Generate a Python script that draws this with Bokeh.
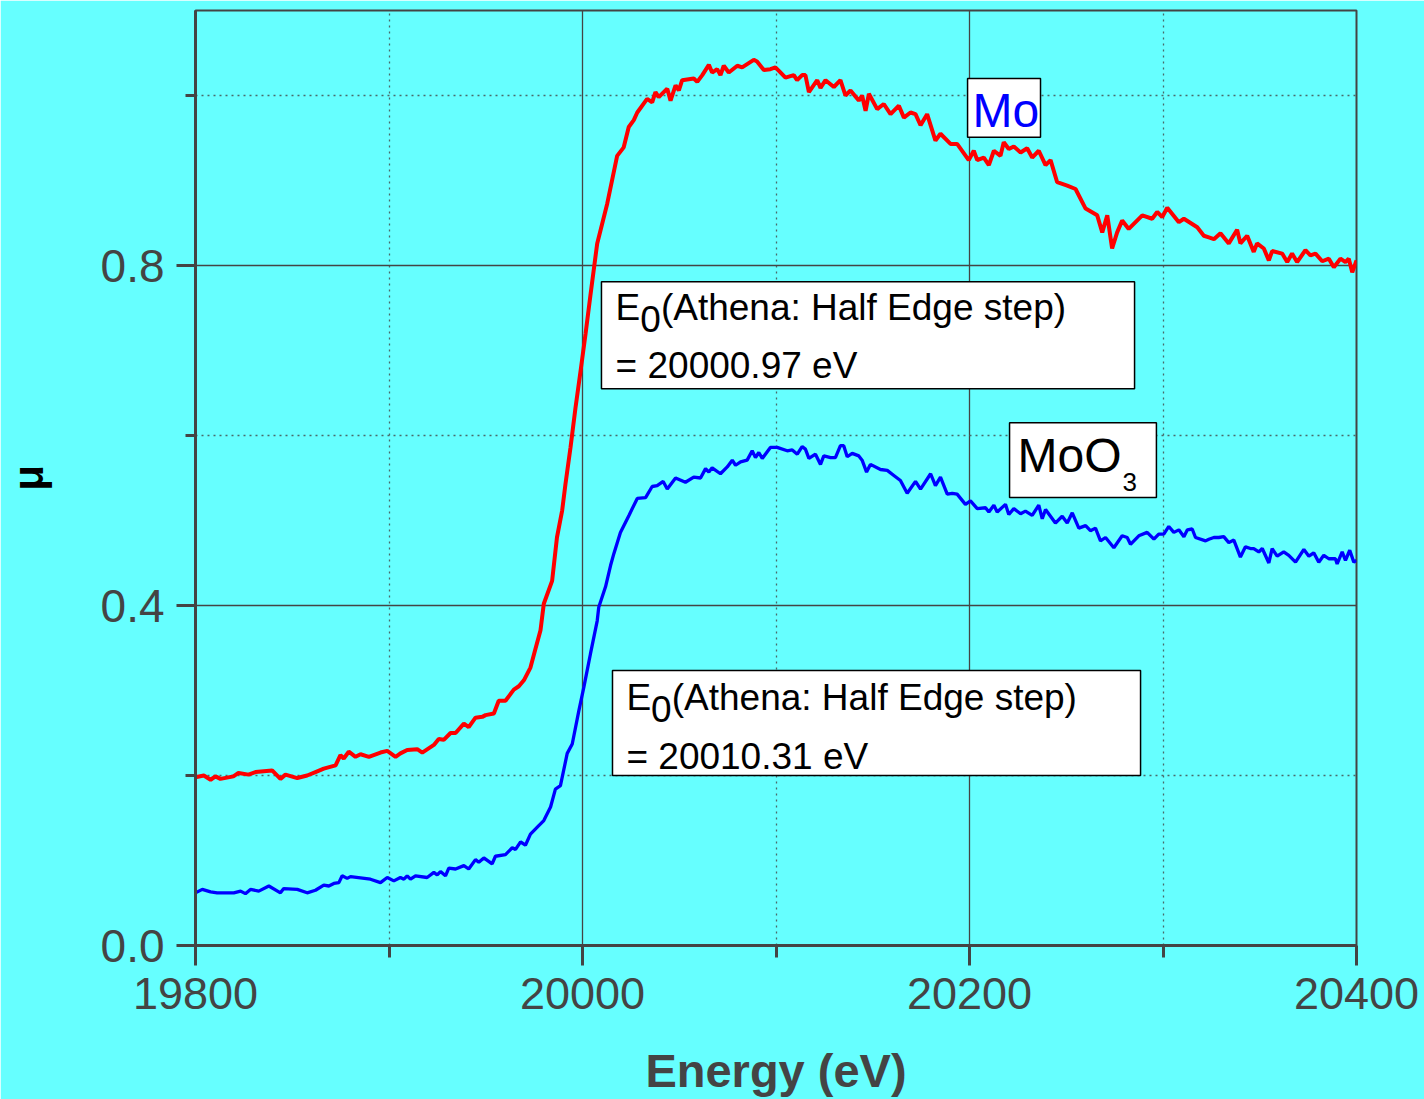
from bokeh.plotting import figure
from bokeh.models import Range1d, FixedTicker, BoxAnnotation, Label, NumeralTickFormatter
from bokeh.embed import file_html
from bokeh.resources import INLINE

# Mo K-edge XANES of Mo foil
energy_mo = [
    19800.0, 19804.3, 19807.8, 19810.3, 19812.9, 19819.6, 19822.2, 19827.4, 19831.0, 19839.6,
    19843.9, 19846.5, 19852.6, 19857.7, 19862.0, 19866.3, 19872.4, 19874.9, 19876.6, 19879.2,
    19882.7, 19885.3, 19889.6, 19895.6, 19899.1, 19903.4, 19905.9, 19909.4, 19914.6, 19917.2,
    19923.2, 19925.7, 19928.3, 19931.8, 19934.4, 19938.7, 19941.2, 19944.7, 19948.2, 19949.9,
    19954.2, 19956.7, 19960.2, 19964.5, 19967.1, 19969.7, 19973.1, 19975.7, 19978.3, 19980.0,
    19984.3, 19986.8, 19989.5, 19991.2, 19993.8, 19996.4, 19999.0, 20001.6, 20004.1, 20007.6,
    20012.8, 20017.9, 20021.3, 20023.9, 20026.5, 20028.3, 20033.4, 20036.0, 20037.7, 20039.4,
    20043.8, 20045.5, 20048.1, 20049.8, 20051.5, 20057.5, 20059.3, 20061.9, 20065.3, 20067.0,
    20069.6, 20071.3, 20073.0, 20075.6, 20080.0, 20082.5, 20088.5, 20090.2, 20093.7, 20097.1,
    20099.7, 20101.5, 20104.9, 20109.2, 20110.9, 20113.5, 20115.2, 20117.0, 20121.3, 20123.0,
    20125.6, 20129.9, 20133.3, 20135.9, 20138.5, 20142.8, 20144.5, 20146.3, 20148.0, 20152.3,
    20155.7, 20159.2, 20163.5, 20166.1, 20169.5, 20172.1, 20174.7, 20178.1, 20182.4, 20185.0,
    20190.2, 20193.6, 20199.6, 20202.2, 20204.0, 20207.4, 20210.0, 20212.6, 20216.0, 20217.7,
    20220.3, 20222.9, 20226.4, 20229.8, 20232.4, 20235.8, 20239.3, 20241.9, 20245.3, 20250.5,
    20254.8, 20260.0, 20266.0, 20268.6, 20271.2, 20273.7, 20276.3, 20278.9, 20282.3, 20289.3,
    20294.4, 20297.0, 20299.6, 20302.2, 20308.2, 20310.8, 20317.7, 20321.1, 20323.7, 20326.3,
    20329.7, 20334.0, 20338.3, 20340.0, 20343.5, 20346.9, 20348.6, 20352.1, 20354.7, 20356.4,
    20361.6, 20364.2, 20366.7, 20369.3, 20373.6, 20376.2, 20378.8, 20382.3, 20385.7, 20388.3,
    20391.7, 20394.3, 20396.0, 20397.8, 20400.0,
]
mu_mo = [
    0.198, 0.200, 0.195, 0.199, 0.196, 0.199, 0.203, 0.201, 0.204, 0.206,
    0.196, 0.201, 0.197, 0.200, 0.204, 0.208, 0.212, 0.224, 0.220, 0.228,
    0.222, 0.225, 0.222, 0.227, 0.229, 0.222, 0.226, 0.230, 0.231, 0.227,
    0.236, 0.243, 0.242, 0.250, 0.250, 0.261, 0.257, 0.268, 0.269, 0.271,
    0.273, 0.288, 0.288, 0.301, 0.305, 0.312, 0.327, 0.349, 0.371, 0.402,
    0.429, 0.480, 0.512, 0.543, 0.586, 0.633, 0.676, 0.720, 0.765, 0.826,
    0.873, 0.929, 0.939, 0.963, 0.971, 0.980, 0.996, 0.992, 1.004, 0.998,
    1.008, 0.994, 1.012, 1.006, 1.018, 1.020, 1.016, 1.024, 1.036, 1.027,
    1.031, 1.024, 1.035, 1.027, 1.035, 1.033, 1.042, 1.040, 1.030, 1.031,
    1.033, 1.029, 1.021, 1.024, 1.018, 1.024, 1.024, 1.004, 1.018, 1.009,
    1.018, 1.010, 1.018, 1.000, 1.006, 0.994, 1.000, 0.982, 1.002, 0.984,
    0.990, 0.978, 0.988, 0.974, 0.980, 0.978, 0.965, 0.978, 0.947, 0.955,
    0.943, 0.943, 0.924, 0.935, 0.924, 0.927, 0.918, 0.935, 0.929, 0.945,
    0.937, 0.940, 0.933, 0.938, 0.927, 0.935, 0.918, 0.924, 0.898, 0.894,
    0.890, 0.867, 0.859, 0.839, 0.859, 0.820, 0.839, 0.853, 0.843, 0.859,
    0.855, 0.863, 0.857, 0.868, 0.851, 0.855, 0.845, 0.835, 0.833, 0.831,
    0.838, 0.826, 0.842, 0.826, 0.835, 0.816, 0.826, 0.820, 0.806, 0.817,
    0.814, 0.804, 0.814, 0.804, 0.818, 0.812, 0.814, 0.805, 0.808, 0.798,
    0.808, 0.804, 0.808, 0.792, 0.806,
]

# Mo K-edge XANES of MoO3
energy_moo3 = [
    19800.0, 19803.5, 19807.8, 19811.2, 19819.8, 19823.3, 19825.8, 19828.4, 19832.7, 19837.9,
    19843.9, 19845.6, 19852.6, 19857.7, 19862.0, 19866.3, 19868.9, 19871.5, 19874.1, 19875.8,
    19878.4, 19880.1, 19890.4, 19895.6, 19899.1, 19902.5, 19905.9, 19907.7, 19909.4, 19911.1,
    19913.7, 19919.7, 19923.2, 19924.9, 19926.6, 19929.2, 19930.9, 19934.4, 19938.7, 19941.2,
    19944.7, 19946.4, 19949.0, 19953.3, 19955.0, 19960.2, 19963.7, 19965.4, 19968.0, 19970.5,
    19973.1, 19977.4, 19980.0, 19983.5, 19986.0, 19988.6, 19992.1, 19994.7, 19998.1, 20000.7,
    20004.1, 20007.6, 20008.4, 20011.9, 20014.5, 20016.2, 20019.6, 20024.0, 20028.3, 20032.6,
    20036.0, 20038.6, 20041.7, 20043.8, 20048.1, 20053.2, 20057.5, 20061.0, 20063.6, 20065.3,
    20067.0, 20071.3, 20074.8, 20077.4, 20079.1, 20081.7, 20085.1, 20087.7, 20089.4, 20091.1,
    20092.9, 20097.1, 20100.6, 20105.8, 20108.4, 20111.0, 20113.5, 20115.2, 20117.0, 20120.4,
    20123.0, 20124.7, 20128.2, 20130.7, 20133.3, 20135.0, 20136.8, 20139.4, 20142.8, 20144.5,
    20146.8, 20148.8, 20154.0, 20157.5, 20160.9, 20164.3, 20167.8, 20172.1, 20174.7, 20179.9,
    20182.4, 20185.0, 20188.5, 20191.1, 20193.6, 20197.9, 20200.5, 20204.0, 20208.3, 20210.0,
    20212.6, 20214.3, 20218.6, 20220.3, 20222.9, 20226.4, 20228.9, 20232.4, 20235.8, 20237.6,
    20239.3, 20244.4, 20247.9, 20250.5, 20253.1, 20256.5, 20260.0, 20262.5, 20265.1, 20267.7,
    20270.3, 20274.6, 20278.9, 20281.5, 20283.2, 20287.5, 20291.8, 20295.3, 20297.8, 20300.4,
    20303.0, 20305.6, 20308.2, 20310.8, 20312.6, 20315.1, 20316.8, 20322.0, 20323.7, 20326.3,
    20328.8, 20331.4, 20334.0, 20336.6, 20340.0, 20342.6, 20345.2, 20346.9, 20349.5, 20351.3,
    20354.7, 20356.4, 20359.0, 20362.4, 20365.0, 20368.5, 20372.8, 20375.4, 20377.9, 20380.5,
    20383.1, 20385.7, 20389.1, 20390.0, 20392.6, 20394.3, 20396.5, 20398.6, 20400.0,
]
mu_moo3 = [
    0.062, 0.066, 0.063, 0.062, 0.062, 0.064, 0.061, 0.066, 0.064, 0.070,
    0.062, 0.067, 0.066, 0.062, 0.065, 0.071, 0.070, 0.073, 0.074, 0.082,
    0.079, 0.081, 0.078, 0.074, 0.080, 0.076, 0.080, 0.078, 0.082, 0.078,
    0.082, 0.080, 0.086, 0.083, 0.087, 0.082, 0.091, 0.090, 0.094, 0.090,
    0.101, 0.098, 0.103, 0.096, 0.105, 0.107, 0.115, 0.113, 0.122, 0.118,
    0.131, 0.141, 0.147, 0.163, 0.184, 0.188, 0.226, 0.237, 0.276, 0.304,
    0.343, 0.382, 0.398, 0.422, 0.447, 0.461, 0.486, 0.506, 0.526, 0.527,
    0.540, 0.541, 0.546, 0.537, 0.550, 0.545, 0.551, 0.550, 0.561, 0.557,
    0.562, 0.555, 0.563, 0.571, 0.565, 0.569, 0.571, 0.582, 0.574, 0.580,
    0.573, 0.586, 0.586, 0.582, 0.583, 0.578, 0.587, 0.584, 0.573, 0.578,
    0.566, 0.576, 0.574, 0.574, 0.588, 0.588, 0.575, 0.579, 0.576, 0.571,
    0.557, 0.566, 0.560, 0.559, 0.553, 0.547, 0.532, 0.546, 0.537, 0.555,
    0.541, 0.551, 0.531, 0.532, 0.531, 0.519, 0.523, 0.514, 0.515, 0.510,
    0.518, 0.510, 0.519, 0.507, 0.514, 0.508, 0.511, 0.506, 0.518, 0.502,
    0.513, 0.497, 0.505, 0.497, 0.509, 0.491, 0.494, 0.488, 0.491, 0.476,
    0.480, 0.468, 0.482, 0.480, 0.472, 0.482, 0.486, 0.478, 0.484, 0.484,
    0.493, 0.486, 0.489, 0.481, 0.489, 0.490, 0.480, 0.476, 0.478, 0.480,
    0.480, 0.481, 0.474, 0.477, 0.457, 0.469, 0.467, 0.467, 0.463, 0.467,
    0.450, 0.467, 0.458, 0.463, 0.459, 0.451, 0.466, 0.458, 0.462, 0.451,
    0.459, 0.455, 0.455, 0.449, 0.463, 0.453, 0.465, 0.451, 0.453,
]

x_ticks = [19800, 20000, 20200, 20400]
x_minor = [19900, 20100, 20300]
y_ticks = [0.0, 0.4, 0.8]
y_minor = [0.2, 0.6, 1.0]

e0_mo = "20000.97"
e0_moo3 = "20010.31"

BG = "#66FFFF"
AX = "#444444"
FONT = "Liberation Sans"

p = figure(width=1424, height=1099, output_backend="svg", toolbar_location=None,
           x_range=Range1d(19800, 20400), y_range=Range1d(0, 1.1),
           min_border_left=195, min_border_right=68, min_border_top=10, min_border_bottom=154)
p.background_fill_color = BG
p.border_fill_color = BG
p.outline_line_color = AX
p.outline_line_width = 2

xt = FixedTicker(ticks=x_ticks, minor_ticks=x_minor)
yt = FixedTicker(ticks=y_ticks, minor_ticks=y_minor)
p.xaxis.ticker = xt
p.yaxis.ticker = yt
p.xgrid.ticker = xt
p.ygrid.ticker = yt
p.xaxis.formatter = NumeralTickFormatter(format="0")
p.yaxis.formatter = NumeralTickFormatter(format="0.0")

for g in (p.xgrid, p.ygrid):
    g.grid_line_color = AX
    g.grid_line_width = 1.3
    g.minor_grid_line_color = "#4a6a6a"
    g.minor_grid_line_width = 1.3
    g.minor_grid_line_dash = "2 4"

for ax in (p.xaxis, p.yaxis):
    ax.axis_line_color = AX
    ax.axis_line_width = 3
    ax.major_tick_line_color = AX
    ax.major_tick_line_width = 3
    ax.minor_tick_line_color = AX
    ax.minor_tick_line_width = 3
    ax.major_tick_in = 0
    ax.minor_tick_in = 0
    ax.major_label_text_font = FONT
    ax.major_label_text_font_size = "45px"
    ax.major_label_text_color = AX
    ax.major_label_standoff = 12
    ax.axis_label_text_font = FONT
    ax.axis_label_text_font_style = "bold"

p.yaxis.major_label_text_font_size = "46px"

p.xaxis.major_tick_out = 20
p.xaxis.minor_tick_out = 12
p.yaxis.major_tick_out = 19
p.yaxis.minor_tick_out = 10

p.xaxis.axis_label = "Energy (eV)"
p.xaxis.axis_label_text_font_size = "47px"
p.xaxis.axis_label_text_color = AX
p.xaxis.axis_label_standoff = 32

p.yaxis.axis_label = "μ"
p.yaxis.axis_label_text_font_size = "42px"
p.yaxis.axis_label_text_color = "#000000"
p.yaxis.axis_label_standoff = 46

p.line(energy_mo, mu_mo, line_color="#FF0000", line_width=4)
p.line(energy_moo3, mu_moo3, line_color="#0000FF", line_width=3.3)

# annotation boxes
def box(l, r, b, t):
    p.add_layout(BoxAnnotation(left=l, right=r, bottom=b, top=t,
                               fill_color="white", fill_alpha=1.0,
                               line_color="black", line_width=1.5, line_alpha=1.0))

def text(x, y, s, size, color="black", dx=0, dy=0):
    # lift by a share of the font size so the glyph baseline sits on y
    lift = 0.34 * size
    p.add_layout(Label(x=x, y=y, text=s, x_offset=dx, y_offset=dy + lift,
                       text_font=FONT, text_font_size=f"{size}px", text_color=color,
                       text_baseline="alphabetic", text_align="left"))

def e0_block(x, y1, y2, val):
    text(x, y1, "E", 37)
    text(x, y1, "0", 37, dx=24.7, dy=-11)
    text(x, y1, "(Athena: Half Edge step)", 37, dx=45.3)
    text(x, y2, "= " + val + " eV", 37)

box(20009.8, 20285.3, 0.655, 0.781)
e0_block(20017.1, 0.7353, 0.667, e0_mo)

box(20015.5, 20288.4, 0.200, 0.3235)
e0_block(20022.7, 0.2765, 0.208, e0_moo3)

box(20199.0, 20236.7, 0.951, 1.020)
text(20201.6, 0.9627, "Mo", 48, color="#0000FF")

box(20220.7, 20296.6, 0.527, 0.615)
text(20224.8, 0.5568, "MoO", 48)
text(20224.8, 0.5568, "3", 26, dx=105, dy=-19)

open("out.html", "w").write(file_html(p, INLINE))
